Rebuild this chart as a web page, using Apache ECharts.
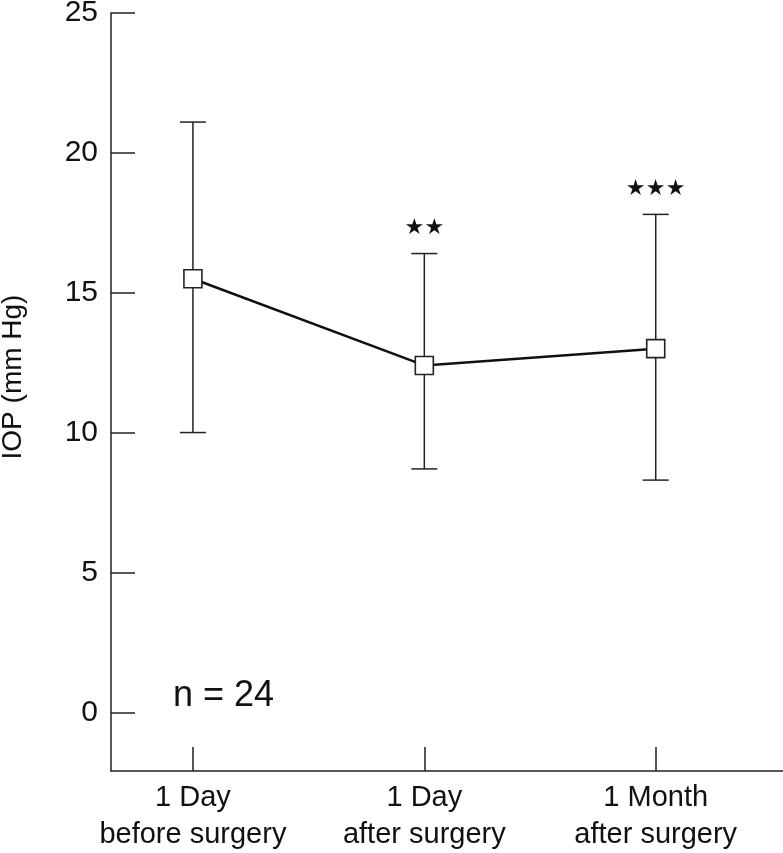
<!DOCTYPE html>
<html>
<head>
<meta charset="utf-8">
<script src="https://cdn.jsdelivr.net/npm/echarts@6/dist/echarts.min.js"></script>
<style>
html,body{margin:0;padding:0;background:#fff;}
#c{width:783px;height:853px;}
</style>
</head>
<body>
<div id="c"></div>
<script>
const categories = ['1 Day\nbefore surgery', '1 Day\nafter surgery', '1 Month\nafter surgery'];
const means = [15.5, 12.4, 13.0];
const upper = [21.1, 16.4, 17.8];
const lower = [10.0, 8.7, 8.3];
const stars = ['', '★★', '★★★'];
const yTicks = [0, 5, 10, 15, 20, 25];
const nLabel = 'n = 24';

const FONT = '"Liberation Sans", Arial, sans-serif';
const chart = echarts.init(document.getElementById('c'), null, {renderer: 'canvas'});

const errData = categories.map((c, i) => [i, lower[i], upper[i], means[i]]);
const lineData = categories.map((c, i) => [i, means[i]]);

chart.setOption({
  animation: false,
  backgroundColor: '#fff',
  grid: {left: 111, right: 0, top: 13, bottom: 82, containLabel: false, outerBoundsMode: 'none'},
  xAxis: {
    type: 'value',
    min: -0.354,
    max: 2.55,
    splitLine: {show: false},
    axisLine: {show: true, onZero: false, lineStyle: {color: '#222', width: 1.5}},
    axisTick: {show: true, inside: true, length: 24, customValues: [0, 1, 2], lineStyle: {color: '#222', width: 1.5}},
    axisLabel: {
      show: true, customValues: [0, 1, 2], margin: 8,
      fontFamily: FONT, fontSize: 29, color: '#111', lineHeight: 37,
      formatter: v => categories[Math.round(v)] || ''
    }
  },
  yAxis: {
    type: 'value',
    min: -2.1,
    max: 25,
    name: 'IOP (mm Hg)',
    nameLocation: 'middle',
    nameGap: 84,
    nameTextStyle: {fontFamily: FONT, fontSize: 28, color: '#111', padding: [0, 0, 0, 30]},
    splitLine: {show: false},
    axisLine: {show: true, onZero: false, lineStyle: {color: '#222', width: 1.5}},
    axisTick: {show: true, inside: true, length: 24, customValues: yTicks, lineStyle: {color: '#222', width: 1.5}},
    axisLabel: {show: true, customValues: yTicks, margin: 13, fontFamily: FONT, fontSize: 30, color: '#111'}
  },
  graphic: [{
    type: 'text',
    left: 173,
    top: 678,
    style: {text: nLabel, fontFamily: FONT, fontSize: 36, fill: '#111'}
  }],
  series: [
    {
      type: 'custom',
      data: errData,
      z: 2,
      renderItem: function (params, api) {
        const i = api.value(0);
        const top = api.coord([i, api.value(2)]);
        const bot = api.coord([i, api.value(1)]);
        const hw = 13;
        const st = {stroke: '#222', lineWidth: 1.5};
        const children = [
          {type: 'line', shape: {x1: top[0], y1: top[1], x2: bot[0], y2: bot[1]}, style: st},
          {type: 'line', shape: {x1: top[0] - hw, y1: top[1], x2: top[0] + hw, y2: top[1]}, style: st},
          {type: 'line', shape: {x1: bot[0] - hw, y1: bot[1], x2: bot[0] + hw, y2: bot[1]}, style: st}
        ];
        const s = stars[params.dataIndex] || '';
        const n = s.length;
        for (let k = 0; k < n; k++) {
          children.push({
            type: 'text',
            style: {
              text: s[k], x: top[0] + (k - (n - 1) / 2) * 20, y: top[1] - 25,
              fontFamily: '"DejaVu Sans", sans-serif', fontSize: 22, fill: '#111',
              align: 'center', verticalAlign: 'middle'
            }
          });
        }
        return {type: 'group', children: children};
      }
    },
    {
      type: 'line',
      data: lineData,
      z: 3,
      symbol: 'rect',
      symbolSize: 18,
      showAllSymbol: true,
      lineStyle: {color: '#111', width: 2.5},
      itemStyle: {color: '#fff', borderColor: '#222', borderWidth: 1.6}
    }
  ]
});
</script>
</body>
</html>
